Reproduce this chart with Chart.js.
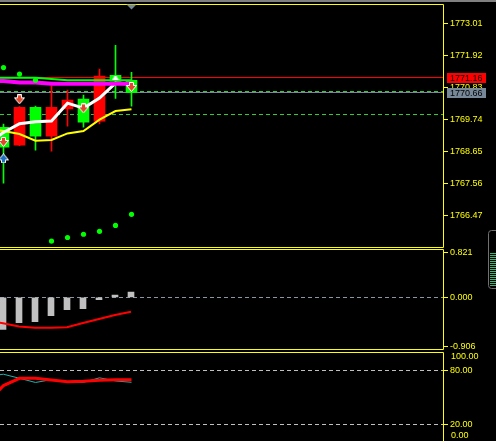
<!DOCTYPE html>
<html>
<head>
<meta charset="utf-8">
<script src="https://cdn.jsdelivr.net/npm/chart.js@4/dist/chart.umd.min.js"></script>
<style>
    html, body { margin: 0; padding: 0; background: #000; overflow: hidden; }
    canvas { position: absolute; left: 0; top: 0; }
</style>
</head>
<body>
<canvas id="mainChart" width="496" height="441"></canvas>
<canvas id="macdChart" width="496" height="441"></canvas>
<canvas id="stochChart" width="496" height="441"></canvas>
<script>
// candles (bar index 0 = first visible bar)
const barIdx = [0, 1, 2, 3, 4, 5, 6, 7, 8];
const opens  = [1769.48, 1768.87, 1770.16, 1769.18, 1770.10, 1770.44, 1769.69, 1771.25, 1771.08];
const highs  = [1769.59, 1770.18, 1770.20, 1770.89, 1770.74, 1770.57, 1771.46, 1772.27, 1771.35];
const lows   = [1767.58, 1768.85, 1768.70, 1768.67, 1769.52, 1769.48, 1769.59, 1770.46, 1770.20];
const closes = [1768.80, 1770.16, 1769.18, 1770.16, 1770.40, 1769.65, 1771.22, 1771.05, 1770.66];

// moving averages (start one bar left of the window)
const maIdx     = [-1, 0, 1, 2, 3, 4, 5, 6, 7, 8];
const fastMA    = [1768.94, 1769.30, 1769.60, 1769.67, 1769.69, 1770.30, 1770.13, 1770.47, 1770.98, 1770.95];
const slowMA    = [1769.45, 1769.35, 1769.25, 1769.02, 1769.05, 1769.27, 1769.35, 1769.74, 1770.03, 1770.09];
const greenMA   = [1771.16, 1771.16, 1771.16, 1771.16, 1771.12, 1771.08, 1771.08, 1771.08, 1771.08, 1771.08];
const magentaMA = [1771.05, 1771.05, 1771.00, 1771.00, 1770.96, 1770.96, 1770.96, 1770.96, 1770.96, 1770.96];

// parabolic sar
const sarVals = [1771.51, 1771.29, 1771.08, 1765.61, 1765.73, 1765.84, 1765.94, 1766.14, 1766.52];

// signal arrows
const sellIdx   = [0, 1, 5, 8];
const sellPrice = [1768.98, 1770.43, 1770.12, 1770.85];
const buyIdx    = [0];
const buyPrice  = [1768.42];
const markIdx   = [7];
const markPrice = [1771.14];

// price levels
const askPrice    = 1771.16;
const bidPrice    = 1770.66;
const orderLevels = [1770.70, 1769.93];
const priceTicks  = [1773.01, 1771.92, 1770.83, 1769.74, 1768.65, 1767.56, 1766.47];
const shiftBar    = 8;

// macd
const macdHist   = [-0.589, -0.467, -0.449, -0.339, -0.228, -0.210, -0.044, 0.042, 0.098];
const macdSignal = [-0.427, -0.478, -0.537, -0.559, -0.559, -0.552, -0.473, -0.399, -0.326, -0.265];
const macdTicks  = [0.821, 0, -0.906];
const macdLevels = [0];

// stochastic
const stochMain   = [43.6, 63.1, 71.1, 71.2, 69.3, 67.4, 67.8, 68.9, 69.6, 69.6];
const stochSignal = [73.7, 75.7, 71.2, 66.5, 69.7, 67.0, 66.7, 71.7, 68.2, 66.7];
const stochTicks  = [80, 20];
const stochLevels = [80, 20];
const stochEdge   = [100, 0];

const X_MIN = -0.21875;
const X_MAX = 27.53125;
const AXIS_FONT = { family: 'Liberation Sans', size: 9 };
const YELLOW = '#ffff00';

function pts(xs, ys) {
    return xs.map((x, i) => ({ x: x, y: ys[i] }));
}

function makeArrow(fill, up) {
    const c = document.createElement('canvas');
    c.width = 11; c.height = 10;
    const g = c.getContext('2d');
    let shape = [[3.5, 0.5], [7.5, 0.5], [7.5, 3.5], [10.5, 3.5], [5.5, 9.5], [0.5, 3.5], [3.5, 3.5]];
    if (up) shape = shape.map(p => [p[0], 10 - p[1]]);
    g.beginPath();
    shape.forEach((p, i) => i ? g.lineTo(p[0], p[1]) : g.moveTo(p[0], p[1]));
    g.closePath();
    g.fillStyle = fill;
    g.fill();
    g.strokeStyle = '#ffffff';
    g.lineWidth = 1;
    g.stroke();
    return c;
}

function makeDome() {
    const c = document.createElement('canvas');
    c.width = 8; c.height = 4;
    const g = c.getContext('2d');
    g.fillStyle = '#ffffff';
    g.beginPath();
    g.moveTo(0, 4); g.lineTo(3, 0); g.lineTo(5, 0); g.lineTo(8, 4);
    g.closePath();
    g.fill();
    return c;
}

const sellImg = makeArrow('#e4462c', false);
const buyImg = makeArrow('#1e70c0', true);
const domeImg = makeDome();

function baseOptions(padTop, padBottom, yMin, yMax, xShift, ticks, digits) {
    return {
        responsive: false,
        animation: false,
        events: [],
        layout: { autoPadding: false, padding: { top: padTop, bottom: padBottom, left: 0, right: 0 } },
        plugins: { legend: { display: false }, tooltip: { enabled: false } },
        scales: {
            x: { type: 'linear', display: false, offset: false, min: X_MIN + xShift, max: X_MAX + xShift },
            y: {
                position: 'right',
                min: yMin,
                max: yMax,
                afterFit: function (s) { s.width = 52; s.paddingTop = 0; s.paddingBottom = 0; },
                afterBuildTicks: function (s) { s.ticks = ticks.map(v => ({ value: v })); },
                border: { display: false },
                grid: { drawOnChartArea: false, drawTicks: true, tickLength: 4, color: YELLOW },
                ticks: {
                    color: YELLOW,
                    padding: 2,
                    font: AXIS_FONT,
                    callback: function (v) { return Number(v).toFixed(digits); }
                }
            }
        }
    };
}

// yellow frame on top, right and bottom of a panel
function frame(chart, withBottom) {
    const { ctx, chartArea: a } = chart;
    ctx.save();
    ctx.strokeStyle = YELLOW;
    ctx.lineWidth = 1;
    ctx.beginPath();
    ctx.moveTo(0, a.top);
    ctx.lineTo(a.right - 0.5, a.top);
    ctx.lineTo(a.right - 0.5, a.bottom);
    if (withBottom) ctx.lineTo(0, a.bottom);
    ctx.stroke();
    ctx.restore();
}

function hLine(chart, value, color, dash) {
    const { ctx, chartArea: a, scales } = chart;
    const y = Math.floor(scales.y.getPixelForValue(value)) + 0.5;
    ctx.save();
    ctx.strokeStyle = color;
    ctx.lineWidth = 1;
    ctx.setLineDash(dash || []);
    ctx.beginPath();
    ctx.moveTo(a.left, y);
    ctx.lineTo(a.right, y);
    ctx.stroke();
    ctx.restore();
}

function priceBox(chart, value, bg) {
    const { ctx, chartArea: a, scales } = chart;
    const y = Math.round(scales.y.getPixelForValue(value));
    ctx.save();
    ctx.fillStyle = bg;
    ctx.fillRect(a.right + 3, y - 5, 39, 10);
    ctx.fillStyle = '#000000';
    ctx.font = AXIS_FONT.size + 'px ' + AXIS_FONT.family;
    ctx.textBaseline = 'middle';
    ctx.fillText(value.toFixed(2), a.right + 6, y + 0.5);
    ctx.restore();
}

const mainDecor = {
    id: 'mainDecor',
    beforeDatasetsDraw(chart) {
        orderLevels.forEach(v => hLine(chart, v, '#32cd32', [4, 3]));
        hLine(chart, bidPrice, '#778899');
        hLine(chart, askPrice, '#ff0000');
    },
    afterDraw(chart) {
        const { ctx, chartArea: a, scales } = chart;
        ctx.save();
        ctx.fillStyle = '#808080';
        ctx.fillRect(0, 0, chart.width, 2);
        ctx.restore();
        frame(chart, true);
        // shift marker
        const sx = scales.x.getPixelForValue(shiftBar);
        ctx.save();
        ctx.fillStyle = '#778899';
        ctx.beginPath();
        ctx.moveTo(sx - 5, a.top);
        ctx.lineTo(sx + 5, a.top);
        ctx.lineTo(sx, a.top + 5);
        ctx.closePath();
        ctx.fill();
        ctx.restore();
        priceBox(chart, askPrice, '#ff0000');
        priceBox(chart, bidPrice, '#778899');
    }
};

const macdDecor = {
    id: 'macdDecor',
    beforeDatasetsDraw(chart) {
        macdLevels.forEach(v => hLine(chart, v, '#8c96a0', [4, 3]));
    },
    afterDraw(chart) {
        frame(chart, true);
    }
};

const stochDecor = {
    id: 'stochDecor',
    beforeDatasetsDraw(chart) {
        stochLevels.forEach(v => hLine(chart, v, '#c0c0c0', [4, 3]));
    },
    afterDraw(chart) {
        const { ctx, chartArea: a, scales } = chart;
        frame(chart, false);
        ctx.save();
        ctx.fillStyle = YELLOW;
        ctx.font = AXIS_FONT.size + 'px ' + AXIS_FONT.family;
        ctx.textBaseline = 'middle';
        ctx.fillText(stochEdge[0].toFixed(2), a.right + 7, scales.y.getPixelForValue(stochEdge[0]) + 4.5);
        ctx.fillText(stochEdge[1].toFixed(2), a.right + 7, scales.y.getPixelForValue(stochEdge[1]) - 6);
        ctx.restore();
        // scroll widget at the right edge
        ctx.save();
        ctx.strokeStyle = '#707070';
        ctx.lineWidth = 1;
        ctx.beginPath();
        ctx.roundRect(488.5, 230.5, 14, 58, 3);
        ctx.stroke();
        ctx.strokeStyle = '#3cb371';
        for (let y = 253.5; y < 287; y += 2) {
            ctx.beginPath();
            ctx.moveTo(490, y);
            ctx.lineTo(496, y);
            ctx.stroke();
        }
        ctx.restore();
    }
};

const candleColors = opens.map((o, i) => closes[i] >= o ? '#ff0000' : '#00ff00');

new Chart(document.getElementById('mainChart').getContext('2d'), {
    type: 'line',
    data: {
        datasets: [
            {
                data: pts(sellIdx, sellPrice), showLine: false,
                pointStyle: sellImg, pointRadius: 5, order: 1
            },
            {
                data: pts(buyIdx, buyPrice), showLine: false,
                pointStyle: buyImg, pointRadius: 5, order: 1
            },
            {
                data: pts(markIdx, markPrice), showLine: false,
                pointStyle: domeImg, pointRadius: 4, order: 1
            },
            {
                data: pts(barIdx, sarVals), showLine: false,
                pointStyle: 'circle', pointRadius: 2.6, borderWidth: 0,
                backgroundColor: '#00ff00', order: 2
            },
            {
                data: pts(maIdx, magentaMA), borderColor: '#ff00ff', borderWidth: 4,
                pointRadius: 0, order: 3
            },
            {
                data: pts(maIdx, greenMA), borderColor: '#00ff00', borderWidth: 2,
                pointRadius: 0, order: 3.5
            },
            {
                data: pts(maIdx, fastMA), borderColor: '#ffffff', borderWidth: 3,
                pointRadius: 0, order: 4
            },
            {
                data: pts(maIdx, slowMA), borderColor: '#ffff00', borderWidth: 2,
                pointRadius: 0, order: 4.5
            },
            {
                type: 'bar',
                data: barIdx.map((x, i) => ({ x: x, y: [opens[i], closes[i]] })),
                backgroundColor: candleColors, borderWidth: 0,
                barThickness: 11, grouped: false, order: 8
            },
            {
                type: 'bar',
                data: barIdx.map((x, i) => ({ x: x, y: [lows[i], highs[i]] })),
                backgroundColor: candleColors, borderWidth: 0,
                barThickness: 1, grouped: false, order: 9
            }
        ]
    },
    options: baseOptions(4.5, 441 - 247.5, 1765.39, 1773.655, 0, priceTicks, 2),
    plugins: [mainDecor]
});

new Chart(document.getElementById('macdChart').getContext('2d'), {
    type: 'line',
    data: {
        datasets: [
            {
                data: pts(maIdx, macdSignal), borderColor: '#ff0000', borderWidth: 2,
                pointRadius: 0, order: 1
            },
            {
                type: 'bar',
                data: pts(barIdx, macdHist),
                backgroundColor: '#c0c0c0', borderWidth: 0,
                barThickness: 6, grouped: false, order: 2
            }
        ]
    },
    options: baseOptions(249.5, 441 - 349.5, -0.96, 0.88, 0.5 / 16, macdTicks, 3),
    plugins: [macdDecor]
});

new Chart(document.getElementById('stochChart').getContext('2d'), {
    type: 'line',
    data: {
        datasets: [
            {
                data: pts(maIdx, stochMain), borderColor: '#ff0000', borderWidth: 3,
                pointRadius: 0, order: 1
            },
            {
                data: pts(maIdx, stochSignal), borderColor: '#20b2aa', borderWidth: 1,
                pointRadius: 0, order: 2
            }
        ]
    },
    options: baseOptions(352.5, 0, 1.1, 100, 0, stochTicks, 2),
    plugins: [stochDecor]
});
</script>
</body>
</html>
